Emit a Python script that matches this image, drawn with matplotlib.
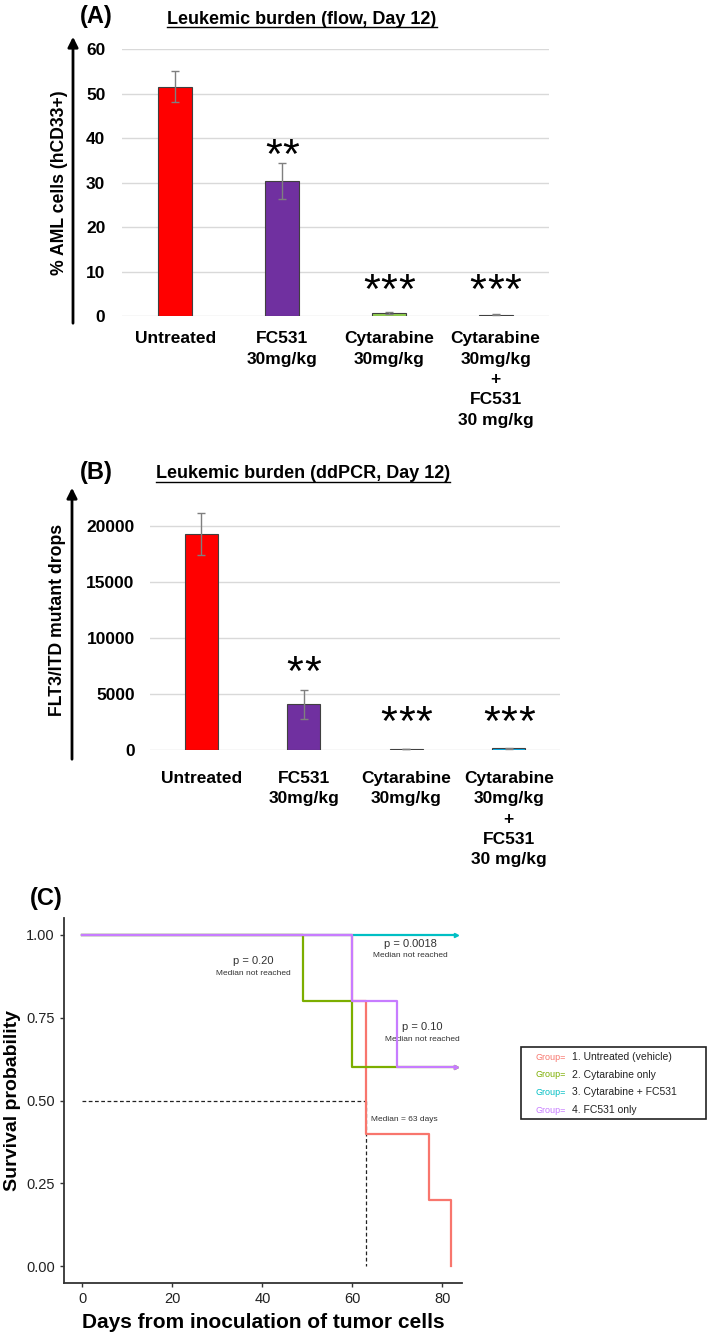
import numpy as np
import matplotlib
matplotlib.use("Agg")
import matplotlib.pyplot as plt
from matplotlib.lines import Line2D
from matplotlib.patches import Rectangle, FancyArrowPatch

plt.rcParams['font.family'] = ['Liberation Sans', 'DejaVu Sans']

W, H = 709, 1337

# ---- data ----
groups_a = ['Untreated', 'FC531\n30mg/kg', 'Cytarabine\n30mg/kg',
            'Cytarabine\n30mg/kg\n+\nFC531\n30 mg/kg']
flow_pct = [51.5, 30.3, 0.7, 0.3]
flow_err = [3.5, 4.0, 0.2, 0.1]
flow_stars = [0, 2, 3, 3]
flow_star_y = [0, 35.7, 5.4, 5.4]

ddpcr_drops = [19300, 4100, 80, 150]
ddpcr_err = [1850, 1300, 30, 40]
ddpcr_stars = [0, 2, 3, 3]
ddpcr_star_y = [0, 6775, 2325, 2325]

bar_colors = ['#FF0000', '#7030A0', '#92D050', '#00B0F0']

# Kaplan-Meier step curves (time, survival)
km_untreated_t = [0, 60, 60, 63, 63, 77, 77, 82, 82]
km_untreated_s = [1.0, 1.0, 0.8, 0.8, 0.4, 0.4, 0.2, 0.2, 0.0]
km_cyt_t = [0, 49, 49, 60, 60, 83]
km_cyt_s = [1.0, 1.0, 0.8, 0.8, 0.6, 0.6]
km_combo_t = [0, 83]
km_combo_s = [1.0, 1.0]
km_fc_t = [0, 60, 60, 70, 70, 83]
km_fc_s = [1.0, 1.0, 0.8, 0.8, 0.6, 0.6]
km_colors = ['#F8766D', '#7CAE00', '#00BFC4', '#C77CFF']
km_labels = ['1. Untreated (vehicle)', '2. Cytarabine only',
             '3. Cytarabine + FC531', '4. FC531 only']


def px(x0, y0, x1, y1):
    return [x0 / W, 1 - y1 / H, (x1 - x0) / W, (y1 - y0) / H]


def fx(x):
    return x / W


def fy(y):
    return 1 - y / H


fig = plt.figure(figsize=(W / 100, H / 100), dpi=100)


def bar_panel(rect, vals, errs, stars, star_y, ymax, xpad, tick_pad):
    ax = fig.add_axes(rect)
    x = np.arange(len(vals))
    ax.bar(x, vals, width=0.32, color=bar_colors, edgecolor='#404040',
           linewidth=0.8, zorder=3)
    ax.errorbar(x, vals, yerr=errs, fmt='none', ecolor='#7f7f7f',
                elinewidth=1, capsize=3, capthick=1, zorder=4)
    # significance stars, one glyph each so the spacing can be set
    for xi, n, sy in zip(x, stars, star_y):
        for j in range(n):
            off = (j - (n - 1) / 2) * 12.6
            ax.annotate('*', (xi, sy), xytext=(off, 0),
                        textcoords='offset points', ha='center',
                        va='center', fontsize=31, zorder=5)
    ax.set_xlim(-0.5, len(vals) - 0.5)
    ax.set_ylim(0, ymax)
    ax.grid(axis='y', color='#D9D9D9', lw=1, zorder=0)
    for sp in ax.spines.values():
        sp.set_visible(False)
    ax.tick_params(length=0)
    ax.tick_params(axis='y', pad=tick_pad, labelsize=12.5)
    ax.set_xticks(x)
    ax.set_xticklabels(groups_a, fontsize=12.5, fontweight='bold',
                       linespacing=1.45, va='top')
    ax.tick_params(axis='x', pad=xpad)
    return ax


# ---- panel A ----
axA = bar_panel(px(122, 49, 549, 316), flow_pct, flow_err, flow_stars,
                flow_star_y, 60, 11, 12)
axA.set_yticks(np.arange(0, 61, 10))
# ---- panel B ----
axB = bar_panel(px(150, 503.6, 560, 750), ddpcr_drops, ddpcr_err,
                ddpcr_stars, ddpcr_star_y, 22000, 15, 11)
axB.set_yticks(np.arange(0, 20001, 5000))
for ax in (axA, axB):
    for t in ax.get_yticklabels():
        t.set_fontweight('bold')

# axis arrows
for xa, yb, yt in [(73, 326, 34), (72, 762, 485)]:
    fig.add_artist(FancyArrowPatch(
        (fx(xa), fy(yb)), (fx(xa), fy(yt)), transform=fig.transFigure,
        arrowstyle='-|>,head_length=6,head_width=3', lw=2, color='black',
        mutation_scale=1))

fig.text(fx(60), fy(183), '% AML cells (hCD33+)', rotation=90,
         ha='center', va='center', fontsize=12.7, fontweight='bold')
fig.text(fx(58), fy(620), 'FLT3/ITD mutant drops', rotation=90,
         ha='center', va='center', fontsize=12.7, fontweight='bold')
fig.text(fx(96), fy(16), '(A)', ha='center', va='center', fontsize=17,
         fontweight='bold')
fig.text(fx(96), fy(473), '(B)', ha='center', va='center', fontsize=17,
         fontweight='bold')
titles = [fig.text(fx(302), fy(19), 'Leukemic burden (flow, Day 12)',
                   ha='center', va='center', fontsize=13, fontweight='bold'),
          fig.text(fx(303), fy(474), 'Leukemic burden (ddPCR, Day 12)',
                   ha='center', va='center', fontsize=13, fontweight='bold')]

# ---- panel C ----
axC = fig.add_axes(px(64, 918, 462, 1283))
km = [(km_untreated_t, km_untreated_s), (km_cyt_t, km_cyt_s),
      (km_combo_t, km_combo_s), (km_fc_t, km_fc_s)]
draw_order = [2, 0, 1, 3]
for z, i in enumerate(draw_order):
    t, s = km[i]
    axC.plot(t, s, color=km_colors[i], lw=1.6, zorder=3 + z)
    if i != 0:
        axC.plot(t[-1], s[-1], marker='>', ms=3, color=km_colors[i],
                 zorder=3 + z)
axC.plot([0, 63], [0.5, 0.5], ls=(0, (3, 2)), color='#222222', lw=0.9,
         zorder=2)
axC.plot([63, 63], [0.5, 0.0], ls=(0, (3, 2)), color='#222222', lw=0.9,
         zorder=2)

axC.text(38, 0.92, 'p = 0.20', ha='center', va='center', fontsize=8,
         color='#333333')
axC.text(38, 0.882, 'Median not reached', ha='center', va='center',
         fontsize=6, color='#333333')
axC.text(73, 0.972, 'p = 0.0018', ha='center', va='center', fontsize=8,
         color='#333333')
axC.text(73, 0.936, 'Median not reached', ha='center', va='center',
         fontsize=6, color='#333333')
axC.text(75.5, 0.72, 'p = 0.10', ha='center', va='center', fontsize=8,
         color='#333333')
axC.text(75.5, 0.683, 'Median not reached', ha='center', va='center',
         fontsize=6, color='#333333')
axC.text(64.2, 0.443, 'Median = 63 days', ha='left', va='center',
         fontsize=6, color='#333333')

axC.set_xlim(-4.1, 84.4)
axC.set_ylim(-0.05, 1.05)
axC.set_xticks([0, 20, 40, 60, 80])
axC.set_yticks([0, 0.25, 0.5, 0.75, 1.0])
axC.set_yticklabels(['0.00', '0.25', '0.50', '0.75', '1.00'])
for sp in ['top', 'right']:
    axC.spines[sp].set_visible(False)
for sp in ['left', 'bottom']:
    axC.spines[sp].set_color('#333333')
    axC.spines[sp].set_linewidth(1.3)
axC.tick_params(color='#333333', length=3, width=1, labelsize=10.5,
                labelcolor='#222222')
axC.set_ylabel('Survival probability', fontsize=14, fontweight='bold',
               labelpad=4)
axC.set_xlabel('Days from inoculation of tumor cells', fontsize=15,
               fontweight='bold', labelpad=5)
fig.text(fx(46), fy(898), '(C)', ha='center', va='center', fontsize=17,
         fontweight='bold')

# legend box
fig.add_artist(Rectangle((fx(521), fy(1119)), fx(706) - fx(521),
                         fy(1047) - fy(1119), transform=fig.transFigure,
                         fill=False, lw=1.2, edgecolor='#222222'))
for k, (lab, c) in enumerate(zip(km_labels, km_colors)):
    yy = 1057 + k * 17.7
    fig.text(fx(536), fy(yy), 'Group=', color=c, fontsize=6.5,
             ha='left', va='center')
    fig.text(fx(572), fy(yy), lab, color='#222222', fontsize=7.5,
             ha='left', va='center')

# underline the bar chart titles
fig.canvas.draw()
r = fig.canvas.get_renderer()
for t in titles:
    bb = t.get_window_extent(r).transformed(fig.transFigure.inverted())
    fig.add_artist(Line2D([bb.x0, bb.x1], [bb.y0 + 0.0005, bb.y0 + 0.0005],
                          transform=fig.transFigure, color='black', lw=1))

fig.savefig('out.png', dpi=100)
